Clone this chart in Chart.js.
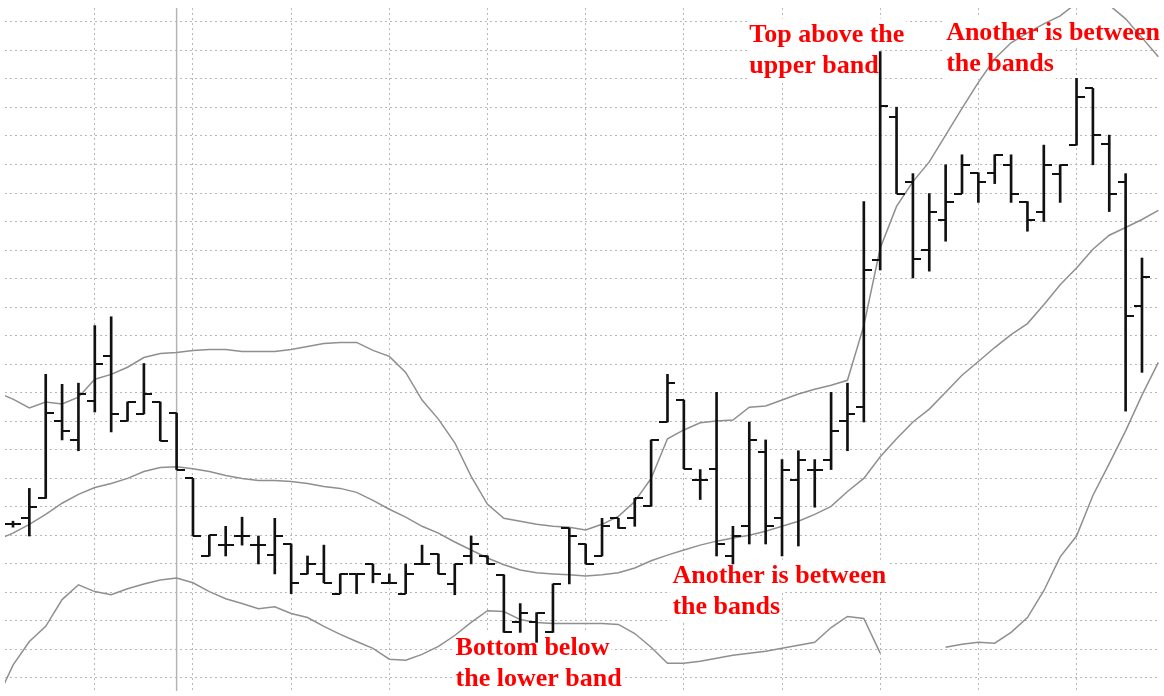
<!DOCTYPE html>
<html>
<head>
<meta charset="utf-8">
<script src="https://cdn.jsdelivr.net/npm/chart.js@4.4.1/dist/chart.umd.min.js"></script>
<style>
  body { margin: 0; background: #fff; }
  canvas { display: block; }
</style>
</head>
<body>
<canvas id="bollinger" width="1164" height="696"></canvas>
<script>
// OHLC bars, one per session (index 0..69)
const opens = [15.38, 15.59, 16.29, 19.00, 18.34, 19.70, 21.30, 19.00, 19.25, 19.67,
  19.28, 16.99, 14.27, 14.65, 14.97, 14.65, 14.30, 14.69, 13.64, 13.64,
  12.95, 13.64, 13.99, 13.33, 12.95, 13.99, 14.34, 13.29, 14.27, 14.27,
  13.61, 11.94, 11.94, 11.59, 15.24, 14.69, 14.27, 15.59, 15.59, 16.01,
  18.97, 19.74, 16.95, 17.33, 14.27, 15.31, 17.93, 15.59, 16.95, 17.30,
  17.65, 19.00, 19.49, 24.65, 29.66, 27.40, 24.99, 26.04, 26.98, 27.71,
  27.71, 27.99, 26.70, 26.35, 27.68, 28.68, 30.67, 28.72, 27.40, 23.04];
const highs = [15.49, 16.64, 20.64, 20.29, 20.33, 22.35, 22.66, 19.67, 21.02, 19.67,
  19.28, 16.99, 15.00, 15.31, 15.63, 14.97, 15.59, 14.69, 14.27, 14.65,
  13.64, 13.64, 13.99, 13.64, 13.99, 14.65, 14.34, 13.99, 14.97, 14.27,
  13.61, 12.60, 12.28, 13.29, 15.24, 14.69, 15.59, 15.59, 16.29, 18.34,
  20.64, 19.74, 17.30, 20.01, 15.31, 18.97, 18.34, 17.65, 17.96, 17.65,
  20.01, 20.33, 26.70, 31.96, 30.01, 27.68, 26.98, 27.99, 28.34, 27.71,
  28.34, 28.34, 26.70, 28.68, 27.99, 31.02, 30.67, 29.03, 27.68, 24.72];
const lows = [15.28, 14.97, 16.29, 18.34, 17.96, 19.32, 18.62, 19.00, 19.25, 18.31,
  17.30, 14.97, 14.27, 14.27, 14.65, 13.99, 13.64, 12.95, 13.64, 13.33,
  12.95, 12.95, 13.33, 13.33, 12.95, 13.99, 13.64, 12.91, 13.99, 13.99,
  11.59, 11.59, 11.24, 11.59, 13.29, 13.99, 14.27, 15.24, 15.31, 16.01,
  18.97, 17.33, 16.25, 14.27, 13.99, 14.69, 14.69, 14.27, 14.62, 15.98,
  17.30, 17.96, 18.97, 24.30, 26.98, 24.02, 24.26, 25.31, 26.98, 26.67,
  27.33, 26.67, 25.66, 26.00, 26.67, 28.68, 27.99, 26.35, 19.35, 20.71];
const closes = [15.38, 15.98, 19.28, 18.66, 19.95, 20.99, 19.25, 19.67, 19.95, 18.31,
  17.30, 14.97, 15.00, 14.65, 14.97, 14.65, 14.97, 13.33, 13.99, 13.33,
  13.64, 13.64, 13.64, 13.33, 13.64, 13.99, 13.64, 13.99, 14.69, 13.99,
  11.59, 12.28, 12.28, 13.29, 14.97, 13.99, 15.31, 15.24, 16.29, 18.34,
  20.33, 17.33, 16.95, 14.69, 14.97, 18.34, 15.31, 17.30, 17.65, 17.30,
  18.66, 19.25, 24.30, 30.04, 26.98, 24.68, 26.35, 26.70, 27.99, 27.40,
  28.34, 26.98, 26.04, 27.99, 27.99, 30.36, 29.03, 26.98, 22.70, 24.05];

// Bollinger bands, index -1..70 (one step past each end of the bars)
const bandStart = -1;
const upperBand = [20.01, 19.77, 19.46, 19.67, 19.60, 19.84, 20.47, 20.64, 20.89, 21.23, 21.37,
  21.41, 21.48, 21.51, 21.51, 21.44, 21.44, 21.44, 21.51, 21.62, 21.72,
  21.76, 21.76, 21.48, 21.27, 20.71, 19.74, 19.07, 18.24, 17.06, 16.08,
  15.59, 15.49, 15.38, 15.31, 15.28, 15.18, 15.38, 15.66, 16.18, 16.99,
  18.38, 18.69, 18.94, 19.00, 19.04, 19.49, 19.53, 19.74, 19.95, 20.12,
  20.26, 20.43, 22.35, 25.06, 26.53, 27.40, 28.09, 29.03, 29.97, 30.88,
  31.71, 32.27, 32.62, 32.93, 33.21, 33.66, 34.05, 33.59, 33.11, 32.45,
  31.78];
const middleBand = [14.83, 15.07, 15.38, 15.73, 16.12, 16.43, 16.67, 16.81, 16.99, 17.23, 17.37,
  17.40, 17.33, 17.23, 17.09, 16.99, 16.92, 16.92, 16.88, 16.81, 16.71,
  16.64, 16.50, 16.22, 15.91, 15.63, 15.31, 15.07, 14.76, 14.48, 14.20,
  13.96, 13.78, 13.68, 13.64, 13.61, 13.57, 13.61, 13.68, 13.85, 14.10,
  14.30, 14.48, 14.65, 14.79, 14.90, 15.00, 15.14, 15.31, 15.49, 15.73,
  16.01, 16.53, 16.99, 17.75, 18.38, 18.97, 19.42, 20.01, 20.61, 21.09,
  21.58, 22.03, 22.42, 23.08, 23.78, 24.37, 25.03, 25.52, 25.79, 26.07,
  26.39];
const lowerBand = [9.22, 10.44, 11.27, 11.80, 12.74, 13.26, 13.02, 12.91, 13.12, 13.29, 13.43,
  13.50, 13.33, 13.02, 12.77, 12.60, 12.42, 12.49, 12.25, 12.11, 11.80,
  11.52, 11.27, 11.03, 10.65, 10.61, 10.82, 11.10, 11.48, 11.94, 12.35,
  12.32, 12.04, 11.94, 11.90, 11.90, 11.90, 11.90, 11.87, 11.55, 11.07,
  10.51, 10.51, 10.58, 10.68, 10.79, 10.86, 10.93, 11.03, 11.14, 11.24,
  11.76, 12.15, 12.08, 10.86, null, null, null, 11.07, 11.17, 11.24,
  11.21, 11.59, 12.11, 13.05, 14.24, 14.97, 16.39, 17.51, 18.66, 19.91,
  21.06];

// grid positions (bar index / price) and the cursor bar
const gridBars = [5, 11, 17, 23, 29, 35, 41, 47, 53, 59, 65];
const gridPrices = [10, 11, 12, 13, 14, 15, 16, 17, 18, 19, 20, 21, 22, 23, 24, 25,
  26, 27, 28, 29, 30, 31, 32, 33];
const cursorBar = 10;

// red notes: first line's left edge anchored at [bar index, price]
const notes = [
  { lines: ["Top above the", "upper band"], at: [45.0, 32.31] },
  { lines: ["Another is between", "the bands"], at: [57.03, 32.37] },
  { lines: ["Another is between", "the bands"], at: [40.30, 13.33] },
  { lines: ["Bottom below", "the lower band"], at: [27.05, 10.79] }
];

const noteFont = 'bold 26px "Liberation Serif", "DejaVu Serif", serif';
const lineGap = 31;

// little open / close ticks as point images
function tickImage(side) {
  const c = document.createElement('canvas');
  c.width = 16; c.height = 2;
  const g = c.getContext('2d');
  g.fillStyle = '#111';
  g.fillRect(side === 'left' ? 0 : 8, 0, 8, 2);
  return c;
}

function band(values) {
  return values.map((v, k) => ({ x: bandStart + k, y: v }));
}

const notesPlugin = {
  id: 'notes',
  beforeDatasetsDraw(chart) {
    const { ctx, chartArea, scales: { x, y } } = chart;
    ctx.save();
    // cursor line
    const cx = x.getPixelForValue(cursorBar);
    ctx.strokeStyle = '#b4b4b4';
    ctx.lineWidth = 1.5;
    ctx.beginPath();
    ctx.moveTo(cx, chartArea.top);
    ctx.lineTo(cx, chartArea.bottom);
    ctx.stroke();
    // white boxes behind the notes (hide the grid)
    ctx.font = noteFont;
    ctx.fillStyle = '#fff';
    notes.forEach(n => {
      const left = x.getPixelForValue(n.at[0]);
      const base = y.getPixelForValue(n.at[1]);
      n.lines.forEach((t, k) => {
        const w = ctx.measureText(t).width;
        ctx.fillRect(left - 2, base + k * lineGap - 23, w + 4, lineGap);
      });
    });
    ctx.restore();
  },
  afterDatasetsDraw(chart) {
    const { ctx, scales: { x, y } } = chart;
    ctx.save();
    ctx.font = noteFont;
    ctx.fillStyle = '#ff0000';
    ctx.textBaseline = 'alphabetic';
    notes.forEach(n => {
      const left = x.getPixelForValue(n.at[0]);
      const base = y.getPixelForValue(n.at[1]);
      n.lines.forEach((t, k) => ctx.fillText(t, left, base + k * lineGap));
    });
    ctx.restore();
  }
};

const bandStyle = {
  type: 'line',
  borderColor: '#8f8f8f',
  borderWidth: 1.5,
  pointRadius: 0,
  tension: 0,
  spanGaps: false,
  order: 3
};

new Chart(document.getElementById('bollinger'), {
  type: 'bar',
  data: {
    datasets: [
      Object.assign({ label: 'Upper band', data: band(upperBand) }, bandStyle),
      Object.assign({ label: 'Moving average', data: band(middleBand) }, bandStyle),
      Object.assign({ label: 'Lower band', data: band(lowerBand) }, bandStyle),
      {
        label: 'High-Low',
        data: highs.map((h, i) => ({ x: i, y: [lows[i], h] })),
        backgroundColor: '#111',
        borderWidth: 0,
        barThickness: 2,
        order: 1
      },
      {
        type: 'line',
        label: 'Open',
        data: opens.map((v, i) => ({ x: i, y: v })),
        showLine: false,
        pointStyle: tickImage('left'),
        pointRadius: 4,
        order: 0
      },
      {
        type: 'line',
        label: 'Close',
        data: closes.map((v, i) => ({ x: i, y: v })),
        showLine: false,
        pointStyle: tickImage('right'),
        pointRadius: 4,
        order: 0
      }
    ]
  },
  options: {
    responsive: false,
    animation: false,
    devicePixelRatio: 1,
    layout: { padding: { top: 8, left: 5, right: 4, bottom: 0 } },
    plugins: {
      legend: { display: false },
      tooltip: { enabled: false }
    },
    events: [],
    scales: {
      x: {
        type: 'linear',
        min: -0.4885,
        max: 70.04,
        offset: false,
        afterBuildTicks: s => { s.ticks = gridBars.map(v => ({ value: v })); },
        ticks: { display: false },
        border: { display: false, dash: [2, 3] },
        grid: { color: '#b8b8b8', lineWidth: 1, drawTicks: false, offset: false }
      },
      y: {
        min: 9.534,
        max: 33.489,
        afterBuildTicks: s => { s.ticks = gridPrices.map(v => ({ value: v })); },
        ticks: { display: false },
        border: { display: false, dash: [2, 3] },
        grid: { color: '#b8b8b8', lineWidth: 1, drawTicks: false }
      }
    }
  },
  plugins: [notesPlugin]
});
</script>
</body>
</html>
